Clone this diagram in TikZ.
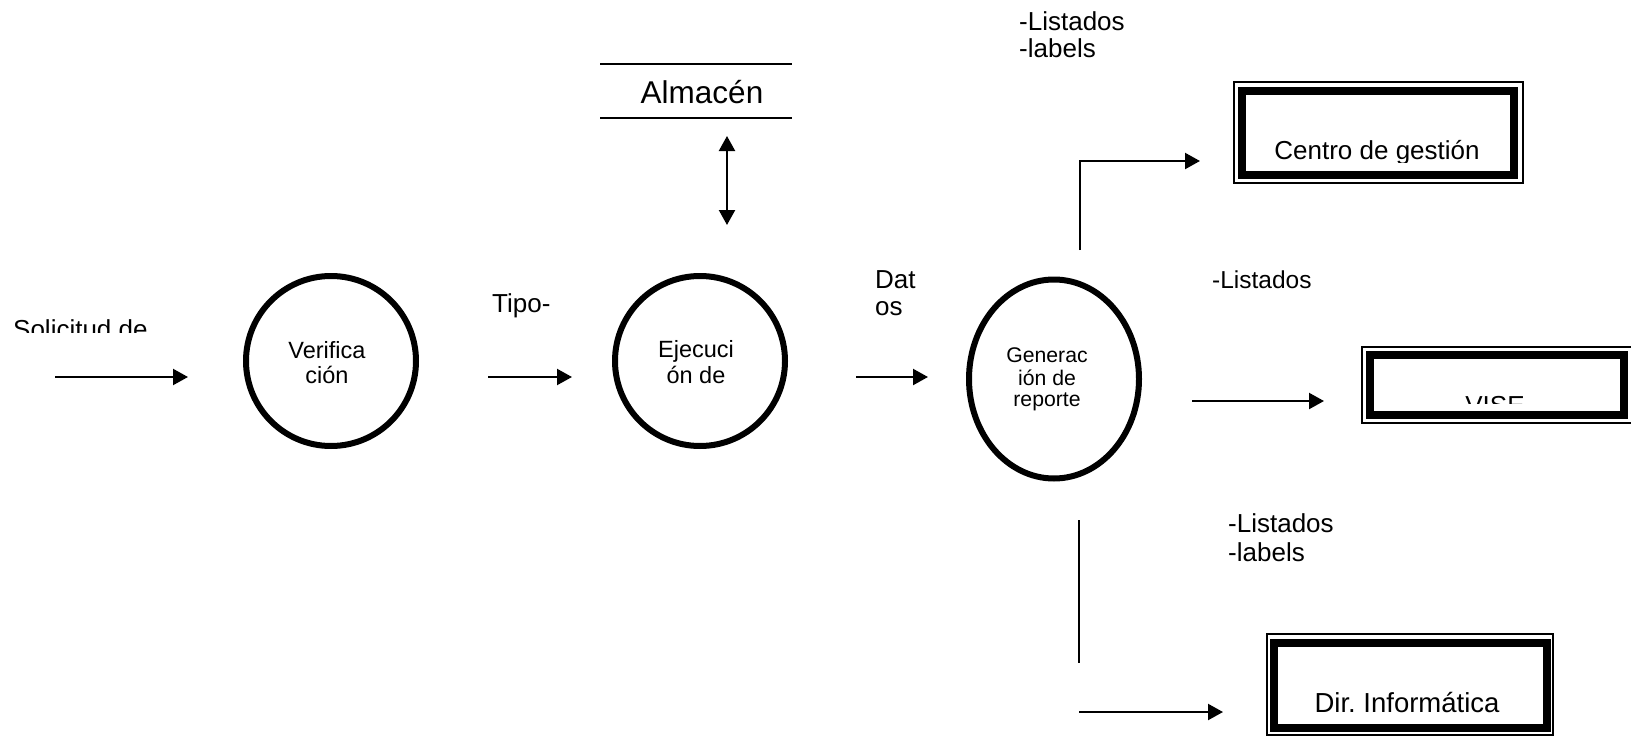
\documentclass[tikz,border=0pt]{standalone}
\usepackage{fontspec}
\setmainfont{Liberation Sans}
\usetikzlibrary{arrows.meta,shapes.geometric}
\tikzset{
  atip/.tip={Triangle[length=15pt,width=16pt]},
  flow/.style={line width=2.2pt,-atip},
  bflow/.style={line width=2.2pt,atip-atip},
  plain/.style={line width=2.2pt},
  proc/.style={draw,line width=6pt,inner sep=0pt},
  txt/.style={inner sep=0pt,anchor=base},
  txtw/.style={inner sep=0pt,anchor=base west},
  thinbox/.style={draw,line width=1.5pt},
  thickbox/.style={draw,line width=8pt},
}
\newcommand{\fxa}{\fontsize{26}{30}\selectfont}
\newcommand{\fxm}{\fontsize{24.5}{28}\selectfont}
\newcommand{\fxb}{\fontsize{27.5}{30}\selectfont}
\newcommand{\fxc}{\fontsize{23.5}{26}\selectfont}
\newcommand{\fxd}{\fontsize{21.2}{24}\selectfont}
\newcommand{\fxe}{\fontsize{31.5}{35}\selectfont}
\frenchspacing
\begin{document}
\begin{tikzpicture}[x=1pt,y=-1pt]
\useasboundingbox (0,0) rectangle (1631,736);
\fill[white] (0,0) rectangle (1631,736);

% processes
\node[proc,circle,minimum size=170pt] (ver) at (331,361) {};
\node[proc,circle,minimum size=170pt] (eje) at (700,361) {};
\node[proc,ellipse,minimum width=170pt,minimum height=199pt] (gen) at (1054,379) {};

\node[txt] (ver1) at (327,358) {\fxc Verifica};
\node[txt] (ver2) at (327,383) {\fxc ción};
\node[txt] (eje1) at (696,357) {\fxc Ejecuci};
\node[txt] (eje2) at (696,383) {\fxc ón de};
\node[txt] (gen1) at (1047,362) {\fxd Generac};
\node[txt] (gen2) at (1047,385) {\fxd ión de};
\node[txt] (gen3) at (1047,406) {\fxd reporte};

% store
\coordinate (stA) at (600,64);
\coordinate (stB) at (792,64);
\coordinate (stC) at (600,118);
\coordinate (stD) at (792,118);
\draw[plain] (stA) -- (stB);
\draw[plain] (stC) -- (stD);
\node[txt] (alm) at (702,103) {\fxe Almacén};
\coordinate (dbT) at (727,136);
\coordinate (dbB) at (727,225);
\draw[bflow] (dbT) -- (dbB);

% external entities
\draw[thinbox] (1234,82) rectangle (1523,183);
\draw[thickbox] (1242,91) rectangle (1514,175);
\begin{scope}
\clip (1250,100) rectangle (1510,162);
\node[txt] (cen) at (1377,159) {\fxa Centro de gestión};
\end{scope}

\draw[thinbox] (1362,347) rectangle (1634,423);
\draw[thickbox] (1370,355) rectangle (1624,415);
\begin{scope}
\clip (1380,360) rectangle (1615,403);
\node[txt] (vis) at (1495,414) {\fxa VISE};
\end{scope}

\draw[thinbox] (1267,634) rectangle (1553,735);
\draw[thickbox] (1274,643) rectangle (1547,728);
\node[txt] (dir) at (1407,712) {\fxb Dir. Informática};

% flows
\coordinate (a1s) at (55,377);
\coordinate (a1e) at (188,377);
\draw[flow] (a1s) -- (a1e);
\coordinate (a2s) at (488,377);
\coordinate (a2e) at (572,377);
\draw[flow] (a2s) -- (a2e);
\coordinate (a3s) at (856,377);
\coordinate (a3e) at (928,377);
\draw[flow] (a3s) -- (a3e);
\coordinate (a4s) at (1192,401);
\coordinate (a4e) at (1324,401);
\draw[flow] (a4s) -- (a4e);
\coordinate (a5s) at (1080,250);
\coordinate (a5e) at (1200,161);
\draw[flow] (a5s) |- (a5e);
\coordinate (a6s) at (1079,520);
\coordinate (a6e) at (1079,663);
\draw[plain] (a6s) -- (a6e);
\coordinate (a7s) at (1079,712);
\coordinate (a7e) at (1223,712);
\draw[flow] (a7s) -- (a7e);

% labels
\begin{scope}
\clip (0,300) rectangle (200,332);
\node[txtw] (sol) at (13,338) {\fxa Solicitud de};
\end{scope}
\node[txtw] (tip) at (492,312) {\fxa Tipo-};
\node[txtw] (dat1) at (875,288) {\fxa Dat};
\node[txtw] (dat2) at (875,315) {\fxa os};
\node[txtw] (lt1) at (1019,30) {\fxa -Listados};
\node[txtw] (lt2) at (1019,57) {\fxa -labels};
\node[txtw] (lm1) at (1212,288) {\fxm -Listados};
\node[txtw] (lb1) at (1228,532) {\fxa -Listados};
\node[txtw] (lb2) at (1228,561) {\fxa -labels};
\end{tikzpicture}
\end{document}
